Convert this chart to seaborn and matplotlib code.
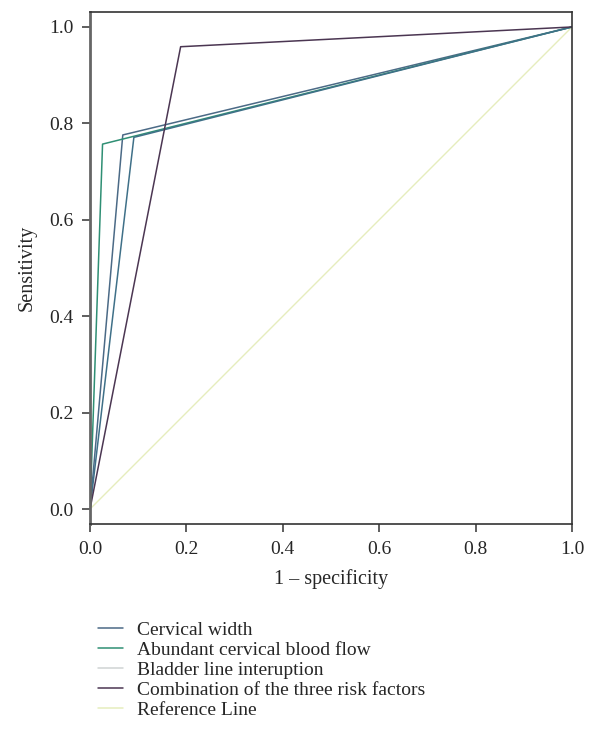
import pandas as pd
import seaborn as sns
import matplotlib.pyplot as plt
from matplotlib.lines import Line2D

# ROC points (1 - specificity, sensitivity)
labels = ["Cervical width", "Abundant cervical blood flow", "Bladder line interuption",
          "Combination of the three risk factors", "Reference Line"]
fpr_cervical = [0.0, 0.068, 1.0]
tpr_cervical = [0.0, 0.776, 1.0]
fpr_flow = [0.0, 0.026, 1.0]
tpr_flow = [0.0, 0.757, 1.0]
fpr_bladder = [0.0, 0.091, 1.0]
tpr_bladder = [0.0, 0.771, 1.0]
fpr_combo = [0.0, 0.188, 1.0]
tpr_combo = [0.0, 0.959, 1.0]
fpr_ref = [0.0, 1.0]
tpr_ref = [0.0, 1.0]

line_colors = ["#4b6a86", "#2f8f74", "#3f7088", "#4b3652", "#e6edbd"]
legend_colors = ["#4b6a86", "#2f8f74", "#cfd3d3", "#4b3652", "#e6edbd"]

rows = []
for lab, xs, ys in zip(labels,
                       [fpr_cervical, fpr_flow, fpr_bladder, fpr_combo, fpr_ref],
                       [tpr_cervical, tpr_flow, tpr_bladder, tpr_combo, tpr_ref]):
    for i, (x, y) in enumerate(zip(xs, ys)):
        rows.append({"curve": lab, "order": i, "fpr": x, "tpr": y})
df = pd.DataFrame(rows)

sns.set_style("ticks")
plt.rcParams['font.family'] = ['Liberation Serif', 'DejaVu Serif']

fig = plt.figure(figsize=(5.93, 7.37), dpi=100)
ax = fig.add_axes([0.1518, 0.289, 0.9646 - 0.1518, 0.9837 - 0.289])

# reference line first so it sits underneath
sns.lineplot(ax=ax, data=df[df.curve == "Reference Line"], x="fpr", y="tpr",
             color=line_colors[4], lw=1.0, sort=False, estimator=None, legend=False)
for lab, c in zip(labels[:4], line_colors[:4]):
    sns.lineplot(ax=ax, data=df[df.curve == lab], x="fpr", y="tpr", color=c,
                 lw=1.1, sort=False, estimator=None, legend=False)

ax.set_xlim(0, 1)
ax.set_ylim(-0.031, 1.031)
ax.set_xticks([0, 0.2, 0.4, 0.6, 0.8, 1.0])
ax.set_yticks([0, 0.2, 0.4, 0.6, 0.8, 1.0])
ax.set_xticklabels([f"{v:.1f}" for v in ax.get_xticks()])
ax.set_yticklabels([f"{v:.1f}" for v in ax.get_yticks()])
ax.tick_params(labelsize=14, length=6, width=1.1, color="#333333", pad=6)
ax.set_xlabel("1 – specificity", fontsize=14.5, labelpad=8)
ax.set_ylabel("Sensitivity", fontsize=14.5, labelpad=9)

for side in ["top", "right", "bottom"]:
    ax.spines[side].set_visible(True)
    ax.spines[side].set_color("#333333")
    ax.spines[side].set_linewidth(1.2)
ax.spines["left"].set_color("#666666")
ax.spines["left"].set_linewidth(2.0)

handles = [Line2D([], [], color=c, lw=1.1) for c in legend_colors]
fig.legend(handles, labels, loc="upper left", bbox_to_anchor=(0.165, 0.157),
           frameon=False, fontsize=14, handlelength=1.3, handletextpad=0.7,
           labelspacing=0.12, borderaxespad=0, borderpad=0)

fig.savefig("out.png", dpi=100)
